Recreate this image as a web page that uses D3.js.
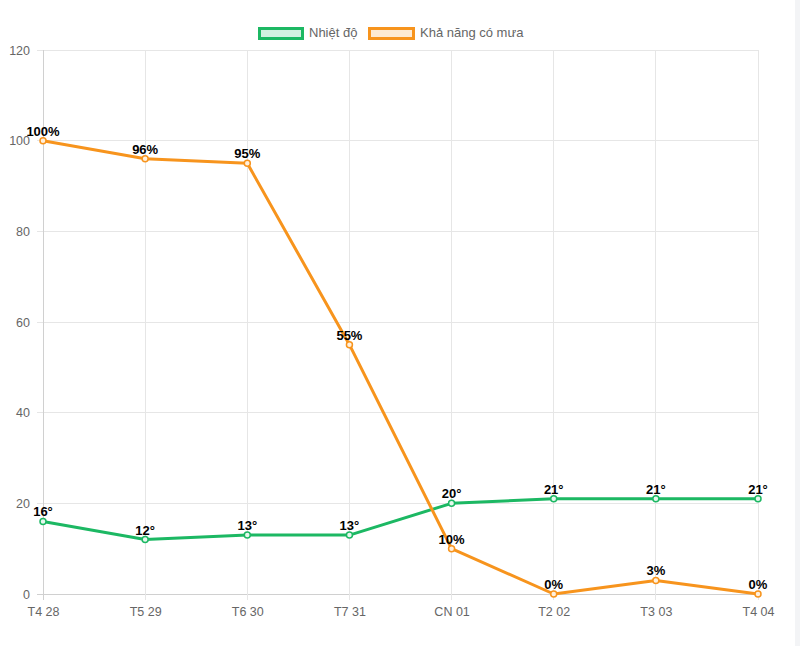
<!DOCTYPE html>
<html><head><meta charset="utf-8">
<script src="https://cdn.jsdelivr.net/npm/d3@7"></script>
<style>html,body{margin:0;padding:0;background:#fff;}svg{display:block;font-family:Arial,"Liberation Sans",sans-serif;}</style>
</head><body>
<script>
const categories = ["T4 28","T5 29","T6 30","T7 31","CN 01","T2 02","T3 03","T4 04"];
const temperature = [16,12,13,13,20,21,21,21];
const rainChance = [100,96,95,55,10,0,3,0];
const yTicks = [0,20,40,60,80,100,120];
const seriesNames = ["Nhiệt độ","Khả năng có mưa"];

(function(){
const W = 800, H = 646;
const svg = d3.select("body").append("svg").attr("width", W).attr("height", H);
svg.append("rect").attr("x",795).attr("y",0).attr("width",5).attr("height",H).attr("fill","#f3f4f6");

const pL = 43, pR = 758, pT = 50, pB = 594;
const x = d3.scalePoint().domain(categories).range([pL, pR]);
const y = d3.scaleLinear().domain([0,120]).range([pB, pT]);

const green = "#1cb863", orange = "#f7941d";
const greenFill = "rgba(28,184,99,0.2)", orangeFill = "rgba(247,148,29,0.2)";

const grid = svg.append("g");
grid.selectAll(".h").data(yTicks).join("line")
  .attr("x1", pL - 6).attr("x2", pR).attr("y1", d=>y(d)).attr("y2", d=>y(d))
  .attr("stroke", d=> d===0 ? "#d0d0d0" : "#e6e6e6").attr("stroke-width",1).attr("shape-rendering","crispEdges");
grid.selectAll(".v").data(categories).join("line")
  .attr("x1", d=>x(d)).attr("x2", d=>x(d)).attr("y1", pT).attr("y2", pB + 6)
  .attr("stroke", (d,i)=> i===0 ? "#d0d0d0" : "#e6e6e6").attr("stroke-width",1).attr("shape-rendering","crispEdges");

const yAxis = d3.axisLeft(y).tickValues(yTicks).tickSize(0).tickPadding(13);
const gy = svg.append("g").attr("transform",`translate(${pL},0)`).call(yAxis);
gy.select(".domain").remove();
gy.selectAll("text").attr("fill","#666").attr("font-size",12.5).attr("font-family","Arial, Liberation Sans, sans-serif");

const xAxis = d3.axisBottom(x).tickSize(0).tickPadding(13);
const gx = svg.append("g").attr("transform",`translate(0,${pB})`).call(xAxis);
gx.select(".domain").remove();
gx.selectAll("text").attr("fill","#666").attr("font-size",12.5).attr("font-family","Arial, Liberation Sans, sans-serif");

function drawSeries(vals, color, fill, suffix){
  const line = d3.line().x((d,i)=>x(categories[i])).y(d=>y(d));
  svg.append("path").datum(vals).attr("d", line).attr("fill","none")
    .attr("stroke", color).attr("stroke-width",3).attr("stroke-linejoin","round");
  svg.append("g").selectAll("circle").data(vals).join("circle")
    .attr("cx",(d,i)=>x(categories[i])).attr("cy", d=>y(d)).attr("r",3)
    .attr("fill", fill).attr("stroke", color).attr("stroke-width",1.5);
  svg.append("g").selectAll("text").data(vals).join("text")
    .attr("x",(d,i)=>x(categories[i])).attr("y", d=>y(d) - 5)
    .attr("text-anchor","middle").attr("font-size",13).attr("font-weight","bold").attr("fill","#000")
    .text(d=> d + suffix);
}
drawSeries(temperature, green, "#e6f8ee", "°");
drawSeries(rainChance, orange, "#fff0dd", "%");

const leg = svg.append("g");
leg.append("rect").attr("x",259.5).attr("y",28.5).attr("width",43).attr("height",10)
  .attr("fill", greenFill).attr("stroke", green).attr("stroke-width",3);
leg.append("text").attr("x",309).attr("y",37).attr("font-size",13).attr("fill","#666").text(seriesNames[0]);
leg.append("rect").attr("x",369.5).attr("y",28.5).attr("width",44).attr("height",10)
  .attr("fill", orangeFill).attr("stroke", orange).attr("stroke-width",3);
leg.append("text").attr("x",420).attr("y",37).attr("font-size",13).attr("fill","#666").text(seriesNames[1]);
})();
</script>
</body></html>
